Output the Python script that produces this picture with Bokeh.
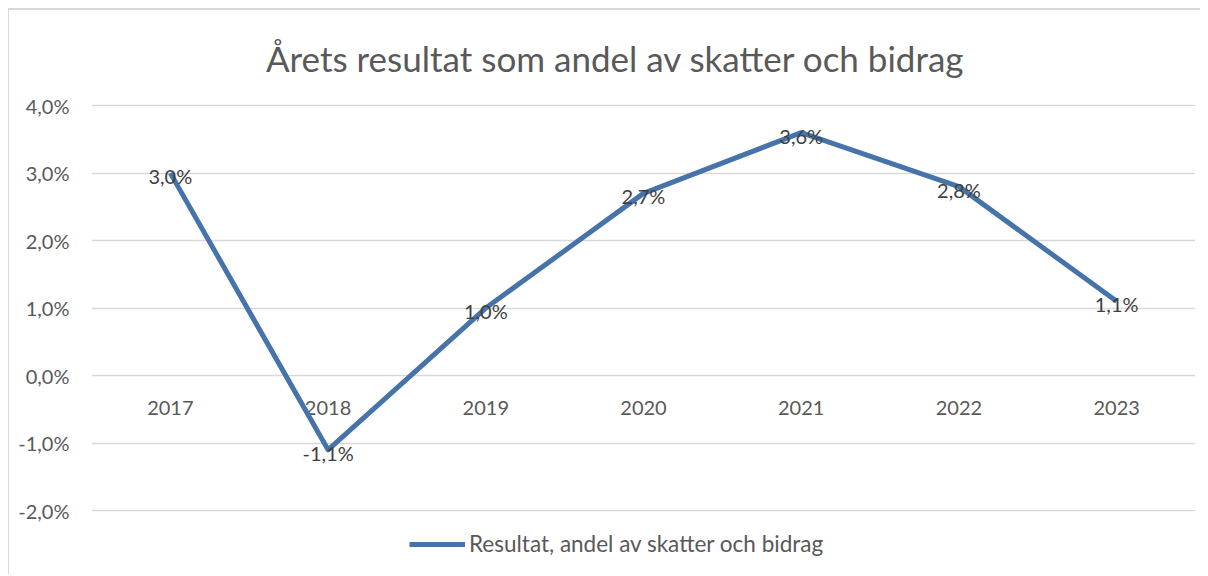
from bokeh.plotting import figure
from bokeh.models import ColumnDataSource, Range1d, FixedTicker, CustomJSTickFormatter, Legend, LegendItem
from bokeh.core.properties import value
from bokeh.embed import file_html
from bokeh.resources import INLINE

years = ["2017", "2018", "2019", "2020", "2021", "2022", "2023"]
values = [3.0, -1.1, 1.0, 2.7, 3.6, 2.8, 1.1]
value_labels = ["3,0%", "-1,1%", "1,0%", "2,7%", "3,6%", "2,8%", "1,1%"]
y_ticks = [-2, -1, 0, 1, 2, 3, 4]
title_text = "Årets resultat som andel av skatter och bidrag"
series_name = "Resultat, andel av skatter och bidrag"

FONT = "Lato"
GREY = "#595959"
LINE = "#4673A9"

xs = list(range(len(years)))
src = ColumnDataSource(dict(x=xs, y=values, lab=value_labels, yr=years, zero=[0] * len(years)))

# frame spans the full height; extra room above/below hosts title and legend
p = figure(width=1200, height=566, output_backend="svg", toolbar_location=None,
           x_range=Range1d(-0.5, len(years) - 0.5), y_range=Range1d(-2.978, 5.41),
           min_border_left=82, min_border_right=14, min_border_top=0, min_border_bottom=0)
p.styles = {"border-top": "2px solid #d9d9d9", "border-left": "1px solid #d9d9d9"}
p.outline_line_color = None
p.border_fill_color = "white"
p.background_fill_color = "white"

p.xaxis.visible = False
p.xgrid.visible = False
p.yaxis.ticker = FixedTicker(ticks=y_ticks)
p.yaxis.formatter = CustomJSTickFormatter(code="return tick.toFixed(1).replace('.', ',') + '%';")
p.yaxis.axis_line_color = None
p.yaxis.major_tick_line_color = None
p.yaxis.minor_tick_line_color = None
p.yaxis.major_label_standoff = 16
p.yaxis.major_label_text_font = FONT
p.yaxis.major_label_text_font_size = "20px"
p.yaxis.major_label_text_color = GREY
p.ygrid.grid_line_color = "#d9d9d9"
p.ygrid.grid_line_width = 1.5

# year labels at zero line
p.text(x="x", y="zero", text="yr", source=src, text_align="center", text_baseline="middle",
       y_offset=32, text_font=value(FONT), text_font_size="20px", text_color=GREY)

r = p.line(x="x", y="y", source=src, line_color=LINE, line_width=5, line_join="round")

p.text(x="x", y="y", text="lab", source=src, text_align="center", text_baseline="middle",
       y_offset=3, text_font=value(FONT), text_font_size="20px", text_color="#404040")

# title
p.text(x=[3], y=[4.711], text=[title_text], x_offset=-28, text_align="center",
       text_baseline="middle", text_font=value(FONT), text_font_size="35px", text_color=GREY)

legend = Legend(items=[LegendItem(label=series_name, renderers=[r])], location=(318, 19),
                glyph_width=56, glyph_height=20, padding=0, margin=0, spacing=0,
                label_standoff=4, label_text_font=FONT, label_text_font_size="22.5px",
                label_text_color=GREY, border_line_color=None, background_fill_alpha=0)
p.add_layout(legend, "center")

html = file_html(p, INLINE)
html = html.replace("<body>", "<body style=\"margin:8px\">")
open("out.html", "w").write(html)
